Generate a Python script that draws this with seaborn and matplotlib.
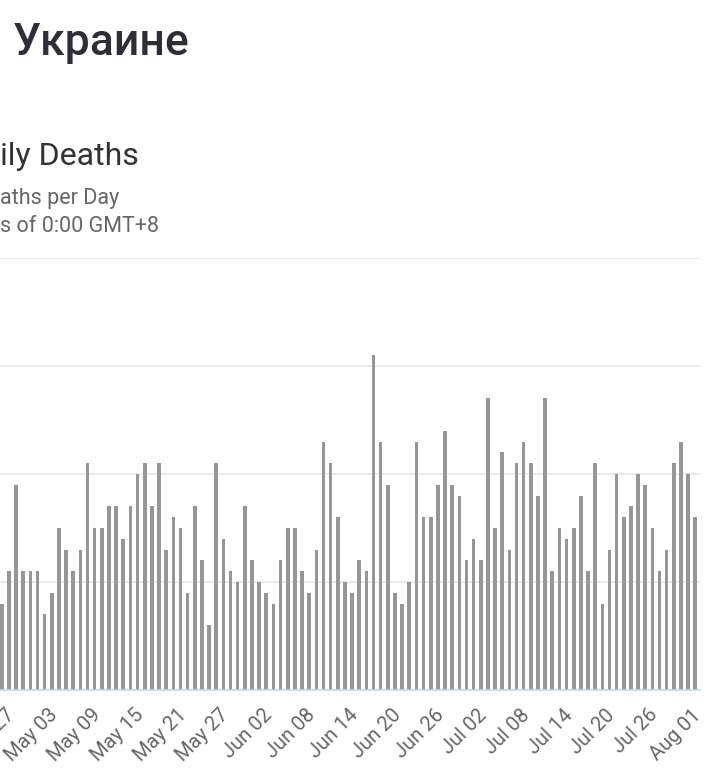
import pandas as pd
import seaborn as sns
import matplotlib
matplotlib.use("Agg")
import matplotlib.pyplot as plt
from matplotlib.transforms import ScaledTranslation

### data (daily deaths, Ukraine)
start_day = "2020-04-26"
deaths = [
    8, 11, 19, 11, 11, 11, 7, 9, 15, 13, 11, 13, 21, 15, 15, 17, 17, 14, 17, 20,
    21, 17, 21, 13, 16, 15, 9, 17, 12, 6, 21, 14, 11, 10,
    17, 12, 10, 9, 8, 12, 15, 15, 11, 9, 13, 23, 21, 16, 10, 9, 12, 11, 31, 23,
    19, 9, 8, 10, 23, 16, 16, 19, 24, 19, 18, 12,
    14, 12, 27, 15, 22, 13, 21, 23, 21, 18, 27, 11, 15, 14, 15, 18, 11, 21, 8, 13,
    20, 16, 17, 20, 19, 15, 11, 13, 21, 23, 20, 16,
]
days = pd.date_range(start_day, periods=len(deaths))
day_labels = [d.strftime("%b %d") for d in days]
y_ticks = [0, 10, 20, 30, 40]

df = pd.DataFrame({"day": day_labels, "deaths": deaths})

sns.set_theme(style="white")
plt.rcParams["font.family"] = ["Roboto", "DejaVu Sans"]

W, H = 720, 780
fig = plt.figure(figsize=(W / 100, H / 100), dpi=100)
fig.patch.set_facecolor("white")

# plot area: baseline at y=690px, top grid at y=258px, right end at x=700px
ax = fig.add_axes([0, (H - 690) / H, 700 / W, 432 / H])
sns.barplot(data=df, x="day", y="deaths", color="#969696", saturation=1,
            width=0.5, linewidth=0, ax=ax)

ax.set_xlim(-0.24, 97.66)
ax.set_ylim(0, 40)
ax.set_yticks(y_ticks)
ax.set_yticklabels([])
ax.yaxis.grid(True, color="#e6e6e6", linewidth=1.2)
ax.set_axisbelow(True)
ax.set_xlabel("")
ax.set_ylabel("")
for side in ["top", "right", "left"]:
    ax.spines[side].set_visible(False)
ax.spines["bottom"].set_color("#ccd6eb")
ax.spines["bottom"].set_linewidth(1.2)

# every 6th day gets a label, starting at Apr 27
tick_idx = list(range(1, len(deaths), 6))
ax.set_xticks(tick_idx)
ax.set_xticklabels([day_labels[i] for i in tick_idx], rotation=45, ha="right",
                   rotation_mode="anchor", color="#666666", fontsize=14.5)
ax.tick_params(axis="x", length=0, pad=11)
ax.tick_params(axis="y", length=0)
shift = ScaledTranslation(-4 / 100, 0, fig.dpi_scale_trans)
for lbl in ax.get_xticklabels():
    lbl.set_transform(lbl.get_transform() + shift)

# headings (the screenshot is cropped on the left)
fig.text(13 / W, 1 - 55 / H, "Украине", fontsize=32, fontweight="medium",
         color="#2e2e38", va="baseline", ha="left")
fig.text(0, 1 - 165 / H, "ily Deaths", fontsize=23, color="#333333",
         va="baseline", ha="left")
fig.text(0, 1 - 204 / H, "aths per Day", fontsize=15.5, color="#666666",
         va="baseline", ha="left")
fig.text(0, 1 - 232 / H, "s of 0:00 GMT+8", fontsize=15.5, color="#666666",
         va="baseline", ha="left")

fig.savefig("out.png", dpi=100, facecolor="white")
